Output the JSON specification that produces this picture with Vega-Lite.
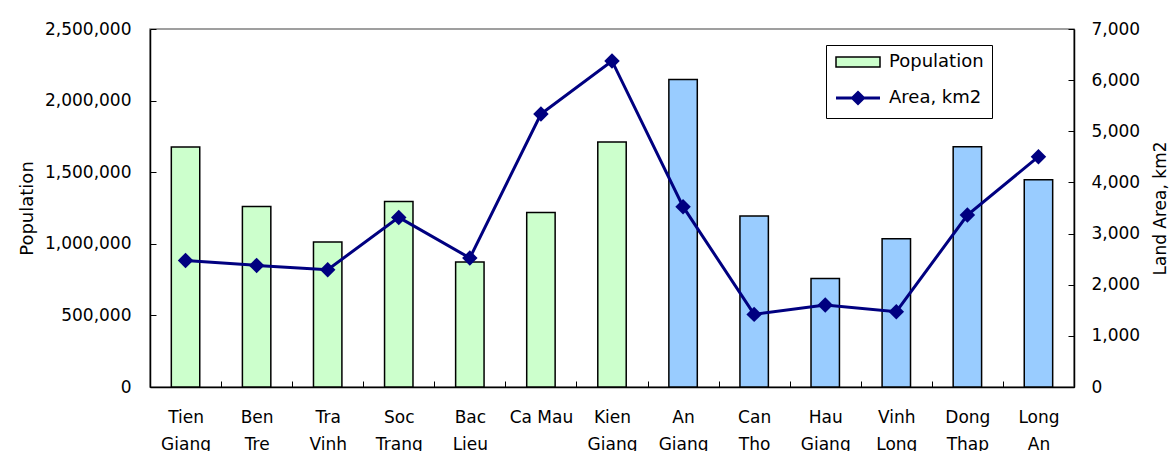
{
  "$schema": "https://vega.github.io/schema/vega-lite/v6.json",
  "width": 924,
  "height": 358,
  "autosize": {"type": "none"},
  "padding": {"left": 150, "top": 29, "right": 97, "bottom": 64},
  "background": "white",
  "config": {
    "font": "DejaVu Sans",
    "view": {"stroke": "#808080", "strokeWidth": 1.5},
    "axis": {
      "grid": false,
      "domainColor": "black",
      "domainWidth": 1.5,
      "tickColor": "black",
      "tickWidth": 1,
      "tickSize": -6,
      "labelColor": "black",
      "labelFont": "DejaVu Sans",
      "labelFontSize": 17,
      "titleColor": "black",
      "titleFont": "DejaVu Sans",
      "titleFontSize": 17,
      "titleFontWeight": "normal"
    },
    "legend": {
      "title": null,
      "orient": "none",
      "legendX": 676,
      "legendY": 16,
      "fillColor": "white",
      "strokeColor": "black",
      "padding": 8,
      "symbolSize": 196,
      "labelOffset": 37,
      "rowPadding": 15,
      "labelFont": "DejaVu Sans",
      "labelFontSize": 18,
      "labelColor": "black"
    }
  },
  "data": {
    "values": [
      {"province": "Tien Giang", "population": 1676000, "area": 2475, "group": "1"},
      {"province": "Ben Tre", "population": 1261000, "area": 2378, "group": "1"},
      {"province": "Tra Vinh", "population": 1012000, "area": 2294, "group": "1"},
      {"province": "Soc Trang", "population": 1296000, "area": 3316, "group": "1"},
      {"province": "Bac Lieu", "population": 873000, "area": 2522, "group": "1"},
      {"province": "Ca Mau", "population": 1219000, "area": 5338, "group": "1"},
      {"province": "Kien Giang", "population": 1711000, "area": 6375, "group": "1"},
      {"province": "An Giang", "population": 2148000, "area": 3526, "group": "2"},
      {"province": "Can Tho", "population": 1194000, "area": 1420, "group": "2"},
      {"province": "Hau Giang", "population": 758000, "area": 1603, "group": "2"},
      {"province": "Vinh Long", "population": 1036000, "area": 1472, "group": "2"},
      {"province": "Dong Thap", "population": 1678000, "area": 3363, "group": "2"},
      {"province": "Long An", "population": 1448000, "area": 4503, "group": "2"}
    ]
  },
  "encoding": {
    "x": {
      "field": "province",
      "type": "nominal",
      "sort": null,
      "scale": {"paddingInner": 0, "paddingOuter": 0},
      "axis": {
        "title": null,
        "labelAngle": 0,
        "tickBand": "extent",
        "labelExpr": "datum.label == 'Ca Mau' ? datum.label : split(datum.label, ' ')",
        "labelLineHeight": 27,
        "labelPadding": 28,
        "labelBaseline": "top"
      }
    }
  },
  "layer": [
    {
      "mark": {"type": "bar", "width": {"band": 0.4}, "strokeWidth": 1.5},
      "encoding": {
        "y": {
          "field": "population",
          "type": "quantitative",
          "scale": {"domain": [0, 2500000], "nice": false},
          "axis": {
            "title": "Population",
            "titleFontSize": 18,
            "titlePadding": 8,
            "format": ",.0f",
            "values": [0, 500000, 1000000, 1500000, 2000000, 2500000],
            "labelPadding": 25
          }
        },
        "fill": {
          "field": "group",
          "type": "nominal",
          "scale": {"domain": ["1", "2"], "range": ["#CCFFCC", "#99CCFF"]},
          "legend": null
        },
        "stroke": {
          "datum": "Population",
          "scale": {"domain": ["Population", "Area, km2"], "range": ["black", "#000080"]},
          "legend": {
            "encode": {
              "symbols": {
                "update": {
                  "shape": {"signal": "datum.value === 'Population' ? 'M-1,-0.714H5.286V0.714H-1Z' : 'M-1,0H5.286M2.143,-0.786L2.929,0L2.143,0.786L1.357,0Z'"},
                  "fill": {"signal": "datum.value === 'Population' ? '#CCFFCC' : '#000080'"},
                  "stroke": {"signal": "datum.value === 'Population' ? 'black' : '#000080'"},
                  "strokeWidth": {"signal": "datum.value === 'Population' ? 1.5 : 3"},
                  "opacity": {"value": 1}
                }
              }
            }
          }
        }
      }
    },
    {
      "encoding": {
        "y": {
          "field": "area",
          "type": "quantitative",
          "scale": {"domain": [0, 7000], "nice": false},
          "axis": {
            "orient": "right",
            "title": "Land Area, km2",
            "titleAngle": 270,
            "titleBaseline": "top",
            "titlePadding": 13,
            "format": ",.0f",
            "values": [0, 1000, 2000, 3000, 4000, 5000, 6000, 7000],
            "labelPadding": 23
          }
        }
      },
      "layer": [
        {
          "mark": {"type": "line", "strokeWidth": 3},
          "encoding": {
            "stroke": {
              "datum": "Area, km2",
              "legend": {
                "encode": {
                  "symbols": {
                    "update": {
                      "shape": {"signal": "datum.value === 'Population' ? 'M-1,-0.714H5.286V0.714H-1Z' : 'M-1,0H5.286M2.143,-0.786L2.929,0L2.143,0.786L1.357,0Z'"},
                      "fill": {"signal": "datum.value === 'Population' ? '#CCFFCC' : '#000080'"},
                      "stroke": {"signal": "datum.value === 'Population' ? 'black' : '#000080'"},
                      "strokeWidth": {"signal": "datum.value === 'Population' ? 1.5 : 3"},
                      "opacity": {"value": 1}
                    }
                  }
                }
              }
            }
          }
        },
        {
          "mark": {"type": "point", "shape": "diamond", "filled": true, "size": 240, "color": "#000080", "opacity": 1}
        }
      ]
    }
  ],
  "resolve": {"scale": {"y": "independent"}}
}
